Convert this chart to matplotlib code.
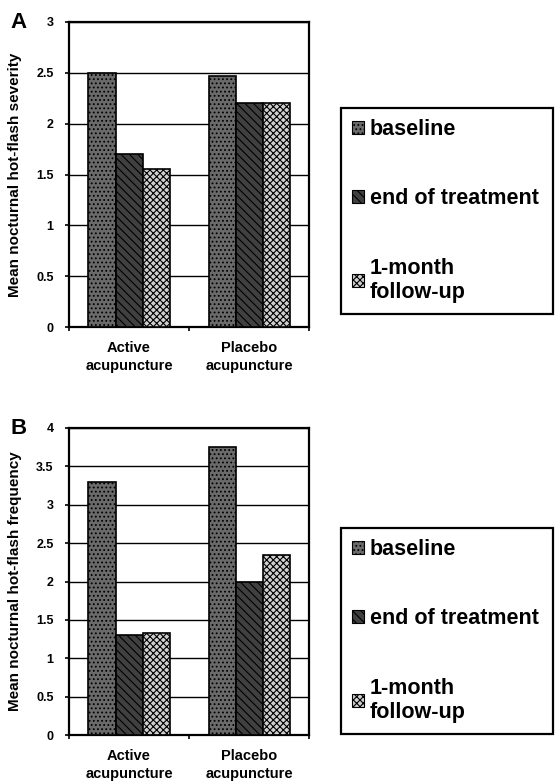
import matplotlib.pyplot as plt
from matplotlib.patches import Patch
import numpy as np

plt.rcParams['font.family'] = ['Liberation Sans', 'DejaVu Sans']
plt.rcParams['font.weight'] = 'bold'
plt.rcParams['hatch.linewidth'] = 0.8

# data
groups = ['Active\nacupuncture', 'Placebo\nacupuncture']
series = ['baseline', 'end of treatment', '1-month\nfollow-up']
severity = {
    'baseline': [2.5, 2.47],
    'end of treatment': [1.7, 2.2],
    '1-month\nfollow-up': [1.55, 2.2],
}
frequency = {
    'baseline': [3.3, 3.75],
    'end of treatment': [1.3, 2.0],
    '1-month\nfollow-up': [1.33, 2.35],
}
severity_ticks = [0, 0.5, 1, 1.5, 2, 2.5, 3]
frequency_ticks = [0, 0.5, 1, 1.5, 2, 2.5, 3, 3.5, 4]

# fill patterns to mimic the print halftones
styles = {
    'baseline': dict(facecolor='#6a6a6a', hatch='....'),
    'end of treatment': dict(facecolor='#404040', hatch='\\\\\\\\'),
    '1-month\nfollow-up': dict(facecolor='#d0d0d0', hatch='xxxxx'),
}

W, H = 555, 784
fig = plt.figure(figsize=(W / 100, H / 100), dpi=100)


def panel(rect, values, ticks, ylabel, letter, legend_box):
    ax = fig.add_axes(rect)
    x = np.arange(len(groups))
    width = 0.225
    for i, name in enumerate(series):
        ax.bar(x + (i - 1) * width, values[name], width=width,
               edgecolor='black', linewidth=1.2, zorder=3, **styles[name])

    ax.set_xlim(-0.5, 1.5)
    ax.set_ylim(ticks[0], ticks[-1])
    ax.set_yticks(ticks)
    ax.set_yticklabels([f'{t:g}' for t in ticks], fontsize=9, fontweight='bold')
    ax.yaxis.grid(True, color='black', linewidth=1.0, zorder=0)
    ax.set_axisbelow(True)
    ax.tick_params(axis='y', length=3, width=1.2, pad=8)

    ax.set_xticks(x)
    ax.set_xticklabels(groups, fontsize=10.5, fontweight='bold', linespacing=1.35)
    ax.tick_params(axis='x', length=0, pad=10)
    ax.set_xticks([-0.5, 0.5, 1.5], minor=True)
    ax.tick_params(axis='x', which='minor', length=3, width=1.2)

    for s in ax.spines.values():
        s.set_linewidth(1.6)
    ax.set_ylabel(ylabel, fontsize=11, fontweight='bold', labelpad=10)

    fig.text(10 / W, rect[1] + rect[3], letter, fontsize=16, fontweight='bold',
             va='center', ha='left')

    handles = [Patch(edgecolor='black', linewidth=0.8, **styles[n]) for n in series]
    leg = fig.legend(handles, series, loc='upper left', bbox_to_anchor=legend_box,
                     mode='expand', borderaxespad=0, fancybox=False,
                     edgecolor='black', framealpha=1,
                     handlelength=0.55, handleheight=0.55, handletextpad=0.3,
                     labelspacing=2.25, borderpad=0.5,
                     prop={'weight': 'bold', 'size': 15.5})
    leg.get_frame().set_linewidth(1.6)


panel([69 / W, 1 - 327 / H, 240 / W, 305 / H], severity, severity_ticks,
      'Mean nocturnal hot-flash severity', 'A',
      (341 / W, 1 - 108 / H, 212 / W, 0))
panel([69 / W, 1 - 735 / H, 240 / W, 307 / H], frequency, frequency_ticks,
      'Mean nocturnal hot-flash frequency', 'B',
      (341 / W, 1 - 528 / H, 212 / W, 0))

fig.savefig('out.png', dpi=100, facecolor='white')
